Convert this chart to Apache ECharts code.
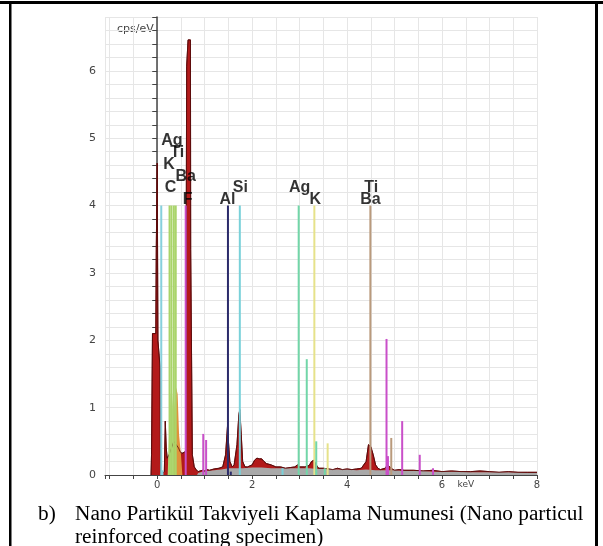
<!DOCTYPE html>
<html>
<head>
<meta charset="utf-8">
<script src="https://cdn.jsdelivr.net/npm/echarts@6/dist/echarts.min.js"></script>
<style>
  html, body { margin: 0; padding: 0; background: #fff; }
  #chart { width: 603px; height: 546px; }
</style>
</head>
<body>
<div id="chart"></div>
<script>
// Energy-dispersive X-ray spectrum, energy in keV vs. counts per eV

// y tick labels drawn at whole numbers
const yLabelValues = [0, 1, 2, 3, 4, 5, 6];
// x tick labels drawn at even energies
const xLabelValues = [0, 2, 4, 6, 8];

// measured spectrum [keV, cps/eV]
const spectrum = [
  [-0.13, 0], [-0.12, 0.3], [-0.105, 0.3], [-0.1, 2.1], [-0.03, 2.1], [-0.02, 3.35],
  [-0.005, 3.35], [0.0, 4.63], [0.01, 4.63], [0.015, 2.0], [0.06, 1.6], [0.07, 0.05],
  [0.1, 0.02], [0.15, 0.05], [0.17, 0.8], [0.19, 0.4], [0.21, 0.25], [0.25, 0.3],
  [0.3, 0.4], [0.35, 0.5], [0.4, 0.45], [0.45, 0.4], [0.48, 0.35], [0.52, 0.32],
  [0.56, 0.3], [0.6, 0.35], [0.62, 6.07], [0.645, 6.07], [0.65, 6.46], [0.7, 6.46],
  [0.705, 3.35], [0.73, 3.35], [0.74, 0.3], [0.78, 0.12], [0.82, 0.08], [0.86, 0.05],
  [0.9, 0.06], [0.95, 0.07], [1.0, 0.06], [1.05, 0.08], [1.1, 0.07], [1.2, 0.09],
  [1.3, 0.1], [1.38, 0.12], [1.44, 0.3], [1.48, 0.72], [1.5, 0.5], [1.53, 0.2],
  [1.58, 0.12], [1.62, 0.15], [1.68, 0.45], [1.72, 0.9], [1.74, 0.97], [1.77, 0.6],
  [1.8, 0.2], [1.85, 0.12], [1.9, 0.12], [2.0, 0.15], [2.05, 0.22], [2.1, 0.25],
  [2.15, 0.24], [2.2, 0.24], [2.25, 0.2], [2.3, 0.17], [2.4, 0.15], [2.5, 0.12],
  [2.6, 0.12], [2.7, 0.1], [2.8, 0.11], [2.9, 0.12], [2.95, 0.15], [3.0, 0.12],
  [3.1, 0.12], [3.15, 0.13], [3.2, 0.14], [3.25, 0.2], [3.3, 0.22], [3.35, 0.15],
  [3.4, 0.1], [3.5, 0.1], [3.6, 0.09], [3.7, 0.08], [3.8, 0.1], [3.9, 0.08],
  [4.0, 0.09], [4.1, 0.08], [4.2, 0.09], [4.3, 0.1], [4.4, 0.2], [4.45, 0.45],
  [4.5, 0.42], [4.55, 0.3], [4.6, 0.15], [4.65, 0.1], [4.7, 0.08], [4.8, 0.1],
  [4.85, 0.15], [4.9, 0.12], [4.95, 0.09], [5.0, 0.07], [5.1, 0.08], [5.2, 0.07],
  [5.4, 0.07], [5.6, 0.06], [5.8, 0.07], [6.0, 0.05], [6.2, 0.06], [6.4, 0.05],
  [6.6, 0.05], [6.8, 0.06], [7.0, 0.05], [7.2, 0.04], [7.4, 0.05], [7.6, 0.04],
  [7.8, 0.04], [8.0, 0.04]
];

// fitted bremsstrahlung background [keV, cps/eV]
const background = [
  [-0.13, 0], [0.84, 0], [0.86, 0.03], [0.95, 0.05], [1.05, 0.06], [1.2, 0.07],
  [1.35, 0.08], [1.5, 0.1], [1.65, 0.1], [1.8, 0.1], [2.0, 0.11], [2.2, 0.11],
  [2.4, 0.1], [2.6, 0.1], [2.8, 0.1], [3.0, 0.1], [3.2, 0.1], [3.4, 0.09],
  [3.6, 0.09], [3.8, 0.08], [4.0, 0.08], [4.2, 0.07], [4.4, 0.08], [4.6, 0.07],
  [4.8, 0.07], [5.0, 0.07], [5.2, 0.06], [5.4, 0.06], [5.6, 0.06], [5.8, 0.05],
  [6.0, 0.05], [6.3, 0.05], [6.6, 0.04], [7.0, 0.04], [7.4, 0.04], [7.8, 0.03],
  [8.0, 0.03]
];

// deconvoluted low-energy peaks [keV, cps/eV]
const lowPeak = [
  [0.33, 0], [0.36, 1.0], [0.4, 1.3], [0.43, 1.2], [0.46, 0.6], [0.5, 0.3], [0.53, 0]
];
const carbonPeak = [
  [0.22, 0], [0.25, 0.6], [0.28, 1.2], [0.31, 1.25], [0.34, 0.9], [0.37, 0]
];

// element line markers
const markerKeV    = [0.085, 0.26, 0.30, 0.35, 0.39, 0.60, 0.11, 0.97, 1.03, 1.49, 1.55, 1.74, 2.64, 2.98, 3.15, 3.31, 3.35, 3.53, 3.59, 4.49, 4.83, 4.86, 4.93, 5.16, 5.53, 5.81];
const markerHeight = [4.0,   4.0,  4.0,  4.0,  4.0,  4.0,  0.07,  0.61, 0.52, 4.0,  0.05, 4.0,  0.1,  4.0,  1.72, 4.0,  0.5,  0.1,  0.47, 4.0,  2.02, 0.28, 0.55, 0.8,  0.3,  0.1];
const markerSeries = ['K', 'C', 'C', 'C', 'C', 'Ba', 'K', 'Ba', 'Ba', 'Al', 'Al', 'Si', 'Si', 'Ag', 'Ag', 'K2', 'Ag', 'Ag', 'K2', 'Ti', 'Ba', 'Ba', 'Ti', 'Ba', 'Ba', 'Ba'];

// element labels
const labelText  = ['Ag', 'Ti', 'K', 'Ba', 'C', 'F', 'Al', 'Si', 'Ag', 'K', 'Ti', 'Ba'];
const labelKeV   = [0.31, 0.42, 0.25, 0.60, 0.28, 0.64, 1.48, 1.75, 3.00, 3.33, 4.51, 4.49];
const labelLevel = [5, 4, 3, 2, 1, 0, 0, 1, 1, 0, 1, 0];

const markerColors = {
  K: '#86d0dc', C: '#a9d46a', Ba: '#c94fc9', Al: '#2b2b6b', Si: '#79d1d9',
  Ag: '#72d6a8', K2: '#e6e28a', Ti: '#b99a7c'
};

const chart = echarts.init(document.getElementById('chart'), null, { renderer: 'canvas' });

const isEven = v => Math.abs(v - Math.round(v)) < 1e-6 && xLabelValues.indexOf(Math.round(v)) >= 0;

const markerData = markerKeV.map((k, i) => ({
  value: [k, markerHeight[i]],
  itemStyle: { color: markerColors[markerSeries[i]] }
}));

const labelData = labelKeV.map((k, i) => ({
  value: [k, 4.0],
  label: { formatter: labelText[i], offset: [0, -(6 + 11.7 * labelLevel[i])] }
}));

chart.setOption({
  animation: false,
  backgroundColor: '#fff',
  grid: { left: 105, right: 66, top: 17, bottom: 71, containLabel: false },
  xAxis: {
    type: 'value', min: -1.1, max: 8.0, splitNumber: 18,
    axisLine: { onZero: false, lineStyle: { color: '#444', width: 1 } },
    axisTick: { show: true, length: 4, lineStyle: { color: '#444' } },
    splitLine: { show: true, lineStyle: { color: '#e6e6e6', width: 1 } },
    axisLabel: {
      margin: 5, color: '#444', fontFamily: 'DejaVu Sans', fontSize: 10,
      showMinLabel: true, showMaxLabel: true, hideOverlap: false,
      formatter: v => {
        if (isEven(v)) return String(Math.round(v));
        if (Math.abs(v - 6.5) < 1e-6) return '{u|keV}';
        return '';
      },
      rich: { u: { fontSize: 9, color: '#444', fontFamily: 'DejaVu Sans', padding: [0, 0, 6, 0] } }
    }
  },
  yAxis: {
    type: 'value', min: 0, max: 6.8, interval: 0.2,
    axisLine: { show: true, lineStyle: { color: '#444', width: 1.5 } },
    axisTick: { show: true, length: 5, lineStyle: { color: '#444' } },
    splitLine: { show: true, lineStyle: { color: '#e6e6e6', width: 1 } },
    axisLabel: {
      margin: 9, color: '#444', fontFamily: 'DejaVu Sans', fontSize: 11,
      formatter: v => {
        const r = Math.round(v);
        return (Math.abs(v - r) < 1e-6 && yLabelValues.indexOf(r) >= 0) ? String(r) : '';
      }
    }
  },
  series: [
    {
      name: 'Spektrum', type: 'line', data: spectrum, symbol: 'none', z: 2,
      lineStyle: { color: '#6a0d0d', width: 1 },
      areaStyle: { color: '#b31a1a', opacity: 1 }
    },
    {
      name: 'Arka plan', type: 'line', data: background, symbol: 'none', z: 3,
      lineStyle: { width: 0 },
      areaStyle: { color: '#a9a9a9', opacity: 1 }
    },
    {
      name: 'C', type: 'line', data: carbonPeak, symbol: 'none', z: 4,
      lineStyle: { width: 0 },
      areaStyle: { color: '#b7d77a', opacity: 1 }
    },
    {
      name: 'Pik', type: 'line', data: lowPeak, symbol: 'none', z: 4,
      lineStyle: { width: 0 },
      areaStyle: { color: '#e0913a', opacity: 1 }
    },
    {
      name: 'Spektrum çizgisi', type: 'line', data: spectrum, symbol: 'none', z: 5,
      lineStyle: { color: '#5a0b0b', width: 0.8 }
    },
    {
      name: 'Çizgiler', type: 'bar', data: markerData, barWidth: 2, z: 6
    },
    {
      name: 'Elementler', type: 'scatter', data: labelData, symbolSize: 0, z: 7,
      label: {
        show: true, position: 'inside', color: '#000000',
        textBorderWidth: 0, textBorderColor: 'transparent',
        fontFamily: 'Liberation Sans', fontWeight: 'bold', fontSize: 16
      }
    }
  ],
  graphic: [
    // figure frame
    { type: 'rect', shape: { x: 0, y: 1, width: 603, height: 3 }, style: { fill: '#000' } },
    { type: 'rect', shape: { x: 9, y: 1, width: 2.5, height: 545 }, style: { fill: '#000' } },
    { type: 'rect', shape: { x: 595, y: 1, width: 3, height: 545 }, style: { fill: '#000' } },
    { type: 'text', left: 117, top: 24,
      style: { text: 'cps/eV', fill: '#444', font: '11px "DejaVu Sans"' } },
    { type: 'text', left: 38, top: 504,
      style: { text: 'b)', fill: '#000', font: '21.3px "Liberation Serif"' } },
    { type: 'text', left: 75, top: 504,
      style: { text: 'Nano Partikül Takviyeli Kaplama Numunesi (Nano particul', fill: '#000', font: '21.3px "Liberation Serif"' } },
    { type: 'text', left: 75, top: 527,
      style: { text: 'reinforced coating specimen)', fill: '#000', font: '21.3px "Liberation Serif"' } }
  ]
});
</script>
</body>
</html>
